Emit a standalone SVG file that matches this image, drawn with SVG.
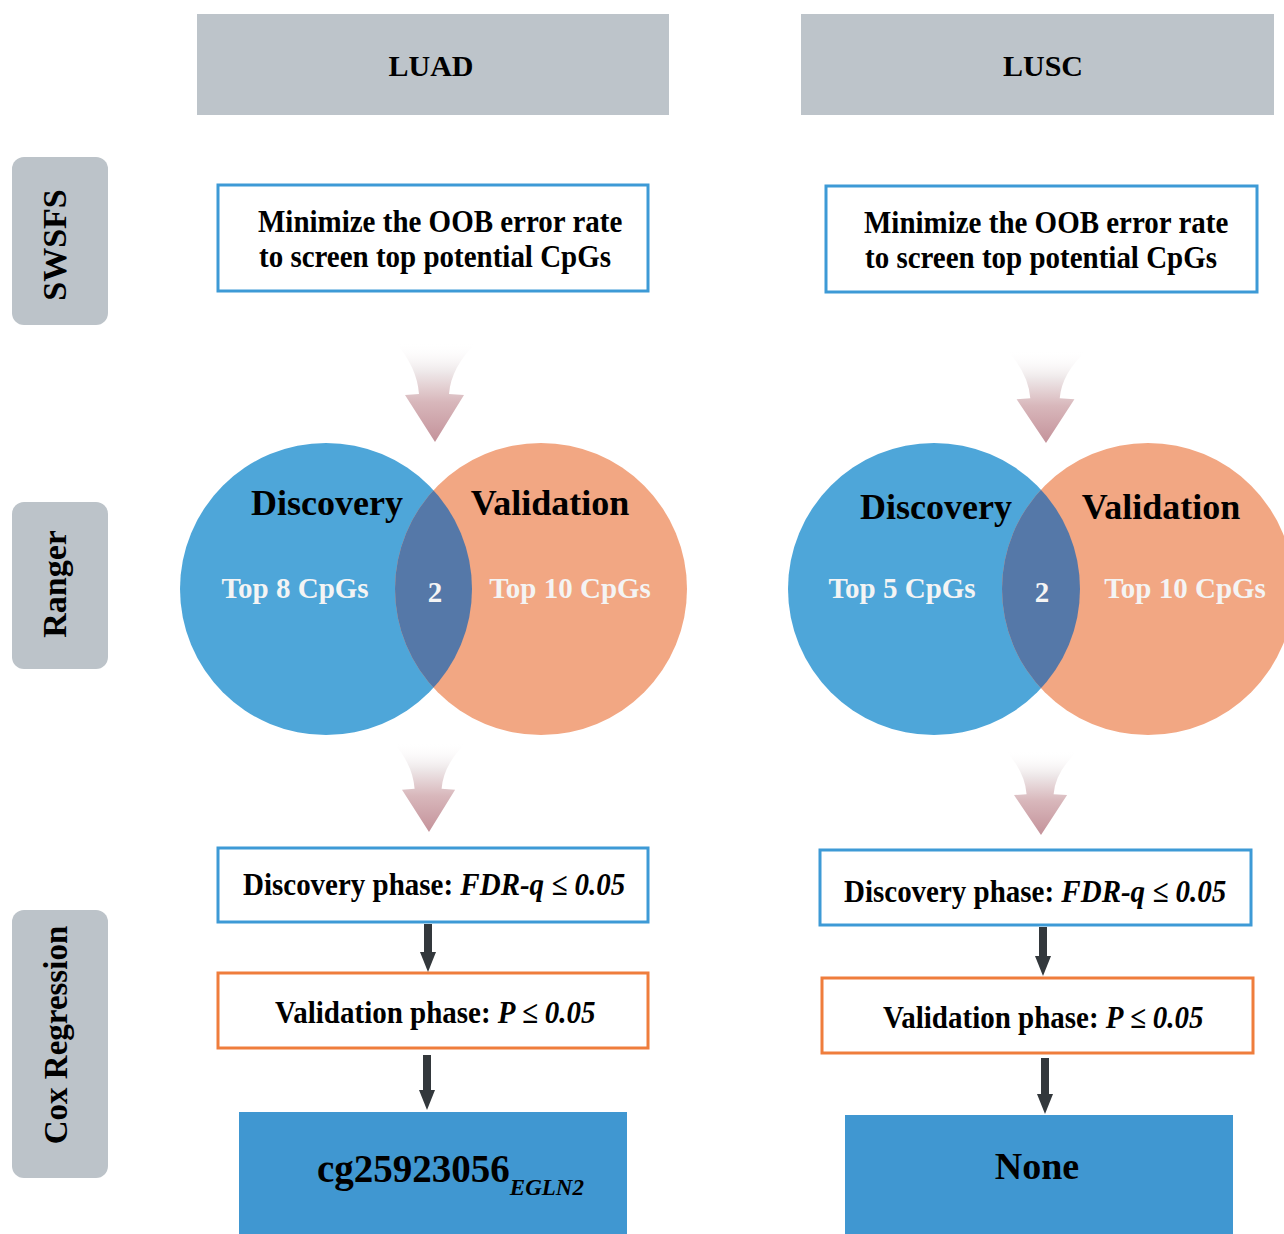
<svg xmlns="http://www.w3.org/2000/svg" width="1284" height="1234" viewBox="0 0 1284 1234">
<style>
.hdr{fill:#bdc4ca}
.side{fill:#bcc3c9}
.t{font-family:"Liberation Serif","Times New Roman",serif;font-weight:bold;fill:#000}
.w{fill:#f4f4f4}
.bbox{fill:#fff;stroke:#3d9ad6;stroke-width:3}
.obox{fill:#fff;stroke:#ef7d3c;stroke-width:3}
.res{fill:#4097d1}
.blue{fill:#4ea6d9}
.orange{fill:#f2a783}
.ov{fill:#5578a8}
.conn{stroke:#33383c;stroke-width:8;fill:none}
</style>
<defs>
<linearGradient id="fade" x1="0" y1="0" x2="0" y2="1">
<stop offset="0" stop-color="#ffffff" stop-opacity="0"/>
<stop offset="0.3" stop-color="#eee8e9"/>
<stop offset="0.6" stop-color="#d8b7bb"/>
<stop offset="1" stop-color="#c4929a"/>
</linearGradient>
<path id="bigArrow" d="M-40,0 Q-18,25 -16,52 L-30,53 L0,100 L29,53 L14,52 Q16,25 42,0 Z" fill="url(#fade)"/>
<marker id="ah" viewBox="0 0 20 16" refX="2" refY="8" markerWidth="20" markerHeight="16" markerUnits="userSpaceOnUse" orient="auto">
<path d="M0,0 L20,8 L0,16 Z" fill="#33383c"/>
</marker>
<clipPath id="clipO1"><circle cx="541" cy="589" r="146"/></clipPath>
<clipPath id="clipO2"><circle cx="1148" cy="589" r="146"/></clipPath>
</defs>

<g id="header-luad"><rect class="hdr" x="197" y="14" width="472" height="101"/><text class="t" x="431" y="76" font-size="30" text-anchor="middle">LUAD</text></g>
<g id="header-lusc"><rect class="hdr" x="801" y="14" width="473" height="101"/><text class="t" x="1043" y="76" font-size="30" text-anchor="middle">LUSC</text></g>

<g id="label-swsfs"><rect class="side" x="12" y="157" width="96" height="168" rx="12"/><text class="t" font-size="34" text-anchor="middle" transform="translate(66,245) rotate(-90)">SWSFS</text></g>
<g id="label-ranger"><rect class="side" x="12" y="502" width="96" height="167" rx="12"/><text class="t" font-size="34" text-anchor="middle" transform="translate(66,584) rotate(-90)">Ranger</text></g>
<g id="label-cox"><rect class="side" x="12" y="910" width="96" height="268" rx="12"/><text class="t" font-size="33" text-anchor="middle" transform="translate(67,1035) rotate(-90)">Cox Regression</text></g>

<g id="luad-swsfs"><rect class="bbox" x="218" y="185" width="430" height="106"/>
<text class="t" font-size="29" transform="translate(258,232) scale(1,1.12)">Minimize the OOB error rate</text>
<text class="t" font-size="29" transform="translate(259,267) scale(1,1.12)">to screen top potential CpGs</text></g>
<g id="lusc-swsfs"><rect class="bbox" x="826" y="186" width="431" height="106"/>
<text class="t" font-size="29" transform="translate(864,233) scale(1,1.12)">Minimize the OOB error rate</text>
<text class="t" font-size="29" transform="translate(865,268) scale(1,1.12)">to screen top potential CpGs</text></g>

<g id="luad-venn">
<circle class="blue" cx="326" cy="589" r="146"/>
<circle class="orange" cx="541" cy="589" r="146"/>
<circle class="ov" cx="326" cy="589" r="146" clip-path="url(#clipO1)"/>
<text class="t" x="327" y="515" font-size="36" text-anchor="middle">Discovery</text>
<text class="t" x="550" y="515" font-size="36" text-anchor="middle">Validation</text>
<text class="t w" x="295" y="598" font-size="29" text-anchor="middle">Top 8 CpGs</text>
<text class="t w" x="435" y="602" font-size="29" text-anchor="middle">2</text>
<text class="t w" x="570" y="598" font-size="29" text-anchor="middle">Top 10 CpGs</text>
</g>
<g id="lusc-venn">
<circle class="blue" cx="934" cy="589" r="146"/>
<circle class="orange" cx="1148" cy="589" r="146"/>
<circle class="ov" cx="934" cy="589" r="146" clip-path="url(#clipO2)"/>
<text class="t" x="936" y="519" font-size="36" text-anchor="middle">Discovery</text>
<text class="t" x="1161" y="519" font-size="36" text-anchor="middle">Validation</text>
<text class="t w" x="902" y="598" font-size="29" text-anchor="middle">Top 5 CpGs</text>
<text class="t w" x="1042" y="602" font-size="29" text-anchor="middle">2</text>
<text class="t w" x="1185" y="598" font-size="29" text-anchor="middle">Top 10 CpGs</text>
</g>

<g id="luad-disc"><rect class="bbox" x="218" y="848" width="430" height="74"/>
<text class="t" font-size="29" transform="translate(243,895) scale(1,1.1)">Discovery phase: <tspan font-style="italic">FDR-q ≤ 0.05</tspan></text></g>
<g id="luad-val"><rect class="obox" x="218" y="973" width="430" height="75"/>
<text class="t" font-size="29" transform="translate(275,1023) scale(1,1.1)">Validation phase: <tspan font-style="italic">P ≤ 0.05</tspan></text></g>
<g id="lusc-disc"><rect class="bbox" x="820" y="850" width="431" height="75"/>
<text class="t" font-size="29" transform="translate(844,902) scale(1,1.1)">Discovery phase: <tspan font-style="italic">FDR-q ≤ 0.05</tspan></text></g>
<g id="lusc-val"><rect class="obox" x="822" y="978" width="431" height="75"/>
<text class="t" font-size="29" transform="translate(883,1028) scale(1,1.1)">Validation phase: <tspan font-style="italic">P ≤ 0.05</tspan></text></g>

<g id="luad-result"><rect class="res" x="239" y="1112" width="388" height="130"/>
<text class="t" x="317" y="1182" font-size="39">cg25923056<tspan font-size="23" font-style="italic" dy="13">EGLN2</tspan></text></g>
<g id="lusc-result"><rect class="res" x="845" y="1115" width="388" height="127"/>
<text class="t" x="1037" y="1179" font-size="38" text-anchor="middle">None</text></g>

<g id="connectors">
<use href="#bigArrow" transform="translate(435,342)"/>
<use href="#bigArrow" transform="translate(429,742) scale(0.9,0.9)"/>
<use href="#bigArrow" transform="translate(1046,350) scale(0.98,0.93)"/>
<use href="#bigArrow" transform="translate(1041,750) scale(0.9,0.85)"/>
<line class="conn" x1="428" y1="924" x2="428" y2="954" marker-end="url(#ah)"/>
<line class="conn" x1="427" y1="1055" x2="427" y2="1092" marker-end="url(#ah)"/>
<line class="conn" x1="1043" y1="927" x2="1043" y2="958" marker-end="url(#ah)"/>
<line class="conn" x1="1045" y1="1058" x2="1045" y2="1096" marker-end="url(#ah)"/>
</g>
</svg>
